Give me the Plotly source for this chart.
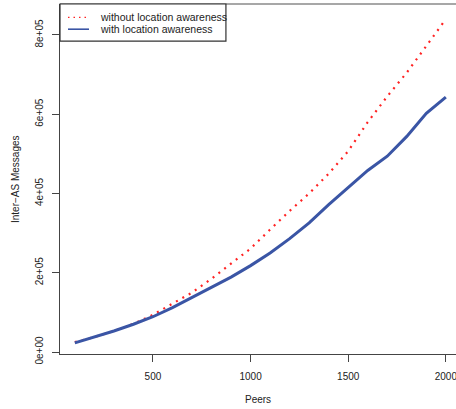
import plotly.graph_objects as go

peers = [100, 200, 300, 400, 500, 600, 700, 800, 900, 1000,
         1100, 1200, 1300, 1400, 1500, 1600, 1700, 1800, 1900, 2000]
without_la = [25000, 38000, 53000, 71000, 94000, 121000, 150000, 185000, 224000, 261000,
              309000, 356000, 400000, 450000, 507000, 580000, 645000, 705000, 772000, 840000]
with_la = [23000, 38000, 53000, 70000, 89000, 112000, 138000, 163000, 189000, 218000,
           250000, 286000, 326000, 372000, 415000, 458000, 494000, 544000, 602000, 643000]

y_ticks = [0, 200000, 400000, 600000, 800000]
y_ticktext = ["0e+00", "2e+05", "4e+05", "6e+05", "8e+05"]
x_ticks = [500, 1000, 1500, 2000]
legend_labels = ["without location awareness", "with location awareness"]

RED = "#FF2222"
BLUE = "#3A55A5"
FONT = "Liberation Sans, Arial, sans-serif"
AX = "#444444"

fig = go.Figure()
fig.add_trace(go.Scatter(x=peers, y=without_la, mode="lines",
                         line=dict(color=RED, width=2.2, dash="2px,5.3px"),
                         showlegend=False))
fig.add_trace(go.Scatter(x=peers, y=with_la, mode="lines",
                         line=dict(color=BLUE, width=3),
                         showlegend=False))

fig.update_layout(
    width=456, height=409,
    margin=dict(l=60, r=0, t=4, b=55),
    paper_bgcolor="white", plot_bgcolor="white",
    font=dict(family=FONT, size=10, color="#222222"),
    showlegend=False,
)
fig.update_xaxes(range=[24, 2052], showgrid=False, zeroline=False,
                 showline=True, linecolor=AX, linewidth=1.3,
                 ticks="outside", ticklen=7, tickwidth=1, tickcolor=AX,
                 tickvals=x_ticks, ticktext=[str(v) for v in x_ticks],
                 ticklabelstandoff=6, ticklabeloverflow="allow")
fig.update_yaxes(range=[-5000, 878000], showgrid=False, zeroline=False,
                 showline=True, linecolor=AX, linewidth=1.3,
                 ticks="outside", ticklen=7, tickwidth=1, tickcolor=AX,
                 tickvals=y_ticks, ticktext=y_ticktext, tickangle=-90,
                 ticklabelstandoff=5)

# top border (lighter)
fig.add_shape(type="line", xref="paper", yref="paper", x0=0, x1=1, y0=1, y1=1,
              line=dict(color="#8a8a8a", width=1.5))

# axis titles
fig.add_annotation(text="Peers", xref="paper", yref="paper", x=0.5, y=-0.131,
                   xanchor="center", yanchor="middle", showarrow=False,
                   font=dict(size=10))
fig.add_annotation(text="Inter\u2212AS Messages", xref="paper", yref="paper",
                   x=-0.1136, y=0.5, textangle=-90, xanchor="center",
                   yanchor="middle", showarrow=False, font=dict(size=10))

# legend box
fig.add_shape(type="rect", xref="paper", yref="paper", x0=0, x1=0.419,
              y0=0.894, y1=1, line=dict(color="#333333", width=1.2),
              fillcolor="white")
row_y = [0.962, 0.928]
fig.add_shape(type="line", xref="paper", yref="paper", x0=0.0202, x1=0.0732,
              y0=row_y[0], y1=row_y[0], line=dict(color=RED, width=1.2, dash="1.5px,4px"))
fig.add_shape(type="line", xref="paper", yref="paper", x0=0.0202, x1=0.0732,
              y0=row_y[1], y1=row_y[1], line=dict(color=BLUE, width=1.6))
for lbl, yy in zip(legend_labels, row_y):
    fig.add_annotation(text=lbl, xref="paper", yref="paper", x=0.0955, y=yy,
                       xanchor="left", yanchor="middle", showarrow=False,
                       font=dict(size=10.5))

fig.write_html("out.html")
